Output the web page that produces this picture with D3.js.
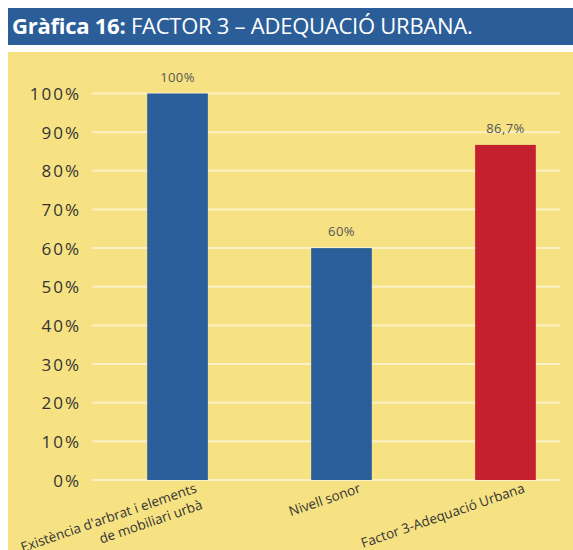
<!DOCTYPE html>
<html>
<head>
<meta charset="utf-8">
<script src="https://cdn.jsdelivr.net/npm/d3@7"></script>
<style>
  body { margin: 0; background: #fff; }
  svg { display: block; }
</style>
</head>
<body>
<div id="chart"></div>
<script>
var width = 573;
var height = 550;

// data
var categories = ["Existència d'arbrat i elements|de mobiliari urbà", "Nivell sonor", "Factor 3-Adequació Urbana"];
var values = [100, 60, 86.7];
var value_labels = ["100%", "60%", "86,7%"];
var bar_colors = ["#2a5f9b", "#2a5f9b", "#c4202e"];
var y_ticks = [0, 10, 20, 30, 40, 50, 60, 70, 80, 90, 100];

var svg = d3.select('#chart')
    .append('svg')
    .attr('width', width)
    .attr('height', height);

// title bar
svg.append('rect')
    .attr('x', 8).attr('y', 8)
    .attr('width', width - 8).attr('height', 37)
    .attr('fill', '#2b5e99');

var title = svg.append('text')
    .attr('x', 12).attr('y', 34)
    .attr('fill', '#fff')
    .style('font-family', 'Open Sans, sans-serif')
    .style('font-size', '22px')
    .style('letter-spacing', '-0.25px');
title.append('tspan').attr('font-weight', 'bold').text('Gràfica 16: ');
title.append('tspan').text('FACTOR 3 – ADEQUACIÓ URBANA.');

// yellow panel
svg.append('rect')
    .attr('x', 8).attr('y', 52)
    .attr('width', width - 8).attr('height', height - 52)
    .attr('fill', '#f6e283');

var x_scale = d3.scaleBand()
    .domain(categories)
    .range([98, 585])
    .paddingInner(0.63)
    .paddingOuter(0.3);

var y_scale = d3.scaleLinear()
    .domain([0, 100])
    .range([480, 93.5]);

// gridlines
svg.selectAll('line.grid')
    .data(y_ticks)
    .enter()
    .append('line')
    .attr('class', 'grid')
    .attr('x1', 92).attr('x2', 560)
    .attr('y1', function(d) { return y_scale(d); })
    .attr('y2', function(d) { return y_scale(d); })
    .attr('stroke', '#fcf1c4')
    .attr('stroke-width', 2);

// y axis labels
var y_axis = d3.axisLeft(y_scale)
    .tickValues(y_ticks)
    .tickSize(0)
    .tickPadding(0)
    .tickFormat(function(d) { return d + '%'; });

var gy = svg.append('g')
    .attr('transform', 'translate(81,0)')
    .call(y_axis);
gy.select('.domain').remove();
gy.selectAll('text')
    .attr('fill', '#333')
    .attr('dy', '0.36em')
    .style('font-family', 'Open Sans, sans-serif')
    .style('font-size', '17px')
    .style('letter-spacing', '2px');

// bars
svg.selectAll('rect.bar')
    .data(values)
    .enter()
    .append('rect')
    .attr('class', 'bar')
    .attr('x', function(d, i) { return x_scale(categories[i]); })
    .attr('y', function(d) { return y_scale(d); })
    .attr('width', x_scale.bandwidth())
    .attr('height', function(d) { return y_scale(0) - y_scale(d); })
    .attr('fill', function(d, i) { return bar_colors[i]; });

// value labels
svg.selectAll('text.val')
    .data(values)
    .enter()
    .append('text')
    .attr('class', 'val')
    .attr('x', function(d, i) { return x_scale(categories[i]) + x_scale.bandwidth() / 2; })
    .attr('y', function(d) { return y_scale(d) - 12; })
    .attr('text-anchor', 'middle')
    .attr('fill', '#555')
    .style('font-family', 'Open Sans, sans-serif')
    .style('font-size', '13px')
    .style('letter-spacing', '0.4px')
    .text(function(d, i) { return value_labels[i]; });

// category labels, rotated and right-aligned at the tick
var xl = svg.selectAll('text.cat')
    .data(categories)
    .enter()
    .append('text')
    .attr('class', 'cat')
    .attr('transform', function(d) {
        var cx = x_scale(d) + x_scale.bandwidth() / 2 + 20;
        return 'translate(' + cx + ',492) rotate(-19)';
    })
    .attr('text-anchor', 'end')
    .attr('fill', '#333')
    .style('font-family', 'Open Sans, sans-serif')
    .style('font-size', '13.5px');

xl.each(function(d) {
    var t = d3.select(this);
    d.split('|').forEach(function(line, i) {
        t.append('tspan')
            .attr('x', 0)
            .attr('dy', i === 0 ? 0 : '1.3em')
            .text(line);
    });
});
</script>
</body>
</html>
